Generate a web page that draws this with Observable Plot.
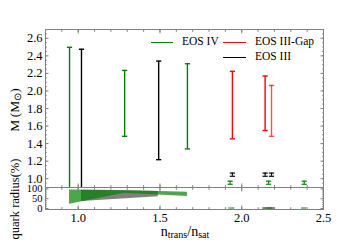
<!DOCTYPE html>
<html><head><meta charset="utf-8">
<script src="https://cdn.jsdelivr.net/npm/d3@7"></script>
<script src="https://cdn.jsdelivr.net/npm/@observablehq/plot@0.6"></script>
<style>
body{margin:0;background:#fff;}
#wrap{position:relative;width:360px;height:240px;overflow:hidden;font-family:"Liberation Serif",serif;color:#000;}
#wrap svg{position:absolute;left:0;overflow:visible;}
.t{position:absolute;white-space:nowrap;line-height:1;}
.ln{position:absolute;height:0;border-top:1.6px solid;}
sub{font-size:72%;vertical-align:baseline;position:relative;top:0.2em;}
</style></head><body><div id="wrap"></div>
<script>
// ---- data ----
// EOS IV (green)
const eosIV_x  = [0.947, 1.284, 1.668];
const eosIV_lo = [0.80, 1.483, 1.34];
const eosIV_hi = [2.497, 2.234, 2.31];
// EOS III (black)
const eosIII_x  = [1.02, 1.492];
const eosIII_lo = [0.80, 1.217];
const eosIII_hi = [2.475, 2.34];
// EOS III-Gap (red)
const gap_x  = [1.943, 2.143, 2.182];
const gap_lo = [1.454, 1.549, 1.483];
const gap_hi = [2.223, 2.170, 2.063];
// small low-mass bars
const smallIII_x  = [1.943, 2.143, 2.182];
const smallIII_lo = [1.028, 1.028, 1.028];
const smallIII_hi = [1.064, 1.064, 1.064];
const smallIV_x  = [1.929, 2.164, 2.382];
const smallIV_lo = [0.937, 0.937, 0.937];
const smallIV_hi = [0.972, 0.972, 0.972];
// quark radius (%) bands
const qIV_x  = [0.947, 1.284, 1.668];
const qIV_lo = [22, 78, 62];
const qIV_hi = [95, 92, 83];
const qIII_x  = [1.02, 1.49];
const qIII_lo = [36, 60];
const qIII_hi = [93, 87];
const qSmallIV_x1 = [1.921, 2.151, 2.366];
const qSmallIV_x2 = [1.958, 2.188, 2.398];
const qSmallIII_x1 = [2.129];
const qSmallIII_x2 = [2.202];
const qSmall_lo = -5, qSmall_hi = 5;
// ticks
const xMajor = [1.0, 1.5, 2.0, 2.5];
const xMinor = d3.range(0.8, 2.5001, 0.1);
const yMajor = [1.0, 1.2, 1.4, 1.6, 1.8, 2.0, 2.2, 2.4, 2.6];
const yMinor = d3.range(0.9, 2.7001, 0.05);
const qMajor = [0, 50, 100];
const qMinor = d3.range(0, 100.01, 10);

const GREEN = "#008000", RED = "#ff0000", BLACK = "#000000", SPINE = "#808080";
const font = {fontFamily: "Liberation Serif, serif", fontSize: "12.5px", background: "transparent", overflow: "visible", color: "#000"};

const cap = {draw(ctx, size) { const w = Math.sqrt(size / Math.PI); ctx.moveTo(-w, 0); ctx.lineTo(w, 0); }};

function rows(xs, lo, hi) { return xs.map((x, i) => ({x, lo: lo[i], hi: hi[i], i})); }
function bars(xs, lo, hi, color, extra = {}) {
  const d = rows(xs, lo, hi);
  const common = {stroke: color, strokeWidth: 1.4, clip: true, ...extra};
  return [
    Plot.ruleX(d, {x: "x", y1: "lo", y2: "hi", ...common}),
    Plot.dot(d, {x: "x", y: "hi", symbol: cap, r: 2.6, fill: "none", ...common}),
    Plot.dot(d, {x: "x", y: "lo", symbol: cap, r: 2.6, fill: "none", ...common})
  ];
}
function minorAxes(axis, anchors, ticks) {
  return anchors.map(a => axis({anchor: a, ticks, tickSize: -1.8, fill: "none", stroke: SPINE, label: null}));
}
function majorNoText(axis, anchors, ticks) {
  return anchors.map(a => axis({anchor: a, ticks, tickSize: -3.5, fill: "none", stroke: SPINE, label: null}));
}

const xScale = {domain: [0.8, 2.5]};

const topChart = Plot.plot({
  width: 360, height: 187,
  marginLeft: 45, marginRight: 37, marginTop: 29, marginBottom: 0,
  x: xScale,
  y: {domain: [0.9, 2.7]},
  style: font,
  marks: [
    ...bars(eosIV_x, eosIV_lo, eosIV_hi, GREEN),
    ...bars(eosIII_x, eosIII_lo, eosIII_hi, BLACK),
    ...bars(gap_x, gap_lo, gap_hi, RED, {strokeOpacity: d => d.i === 2 ? 0.7 : 1}),
    ...bars(smallIII_x, smallIII_lo, smallIII_hi, BLACK, {strokeWidth: 1.2}),
    ...bars(smallIV_x, smallIV_lo, smallIV_hi, GREEN, {strokeWidth: 1.2}),
    Plot.axisY({anchor: "left", ticks: yMajor, tickSize: -3.5, tickPadding: 6.5, tickFormat: d3.format(".1f"), stroke: SPINE, fill: "#000", label: null}),
    ...majorNoText(Plot.axisY, ["right"], yMajor),
    ...minorAxes(Plot.axisY, ["left", "right"], yMinor),
    ...majorNoText(Plot.axisX, ["top", "bottom"], xMajor),
    ...minorAxes(Plot.axisX, ["top", "bottom"], xMinor),
    Plot.frame({stroke: SPINE, strokeWidth: 1})
  ]
});
topChart.style.top = "0px";

const qIVrows = rows(qIV_x, qIV_lo, qIV_hi);
const qIIIrows = rows(qIII_x, qIII_lo, qIII_hi);
const sIV = qSmallIV_x1.map((x1, i) => ({x1, x2: qSmallIV_x2[i]}));
const sIII = qSmallIII_x1.map((x1, i) => ({x1, x2: qSmallIII_x2[i]}));

const bottomChart = Plot.plot({
  width: 360, height: 53,
  marginLeft: 45, marginRight: 37, marginTop: 0, marginBottom: 31,
  x: xScale,
  y: {domain: [-5, 107.5]},
  style: font,
  marks: [
    Plot.areaY(qIIIrows, {x: "x", y1: "lo", y2: "hi", fill: BLACK, fillOpacity: 0.5}),
    Plot.areaY(qIVrows, {x: "x", y1: "lo", y2: "hi", fill: GREEN, fillOpacity: 0.7}),
    Plot.rect(sIII, {x1: "x1", x2: "x2", y1: qSmall_lo, y2: qSmall_hi, fill: BLACK, fillOpacity: 0.5}),
    Plot.rect(sIV, {x1: "x1", x2: "x2", y1: qSmall_lo, y2: qSmall_hi, fill: GREEN, fillOpacity: 0.5}),
    Plot.axisY({anchor: "left", ticks: qMajor, tickSize: -3.5, tickPadding: 6.5, tickFormat: d3.format("d"), stroke: SPINE, fill: "#000", fontSize: 10.5, label: null}),
    ...majorNoText(Plot.axisY, ["right"], qMajor),
    ...minorAxes(Plot.axisY, ["left", "right"], qMinor),
    Plot.axisX({anchor: "bottom", ticks: xMajor, tickSize: -3.5, tickPadding: 7, tickFormat: d3.format(".1f"), stroke: SPINE, fill: "#000", label: null}),
    ...majorNoText(Plot.axisX, ["top"], xMajor),
    ...minorAxes(Plot.axisX, ["top", "bottom"], xMinor),
    Plot.frame({stroke: SPINE, strokeWidth: 1})
  ]
});
bottomChart.style.top = "187px";

const wrap = document.getElementById("wrap");
wrap.appendChild(topChart);
wrap.appendChild(bottomChart);

function addText(html, left, topPx, size, extra = "") {
  const d = document.createElement("div");
  d.className = "t";
  d.innerHTML = html;
  d.style.cssText += `left:${left}px;top:${topPx}px;font-size:${size}px;${extra}`;
  wrap.appendChild(d);
  return d;
}
function addLine(left, topPx, w, color) {
  const d = document.createElement("div");
  d.className = "ln";
  d.style.cssText += `left:${left}px;top:${topPx}px;width:${w}px;border-top-color:${color};`;
  wrap.appendChild(d);
}
// legend
addLine(151, 41.5, 22, GREEN);
addText("EOS IV", 182, 36, 11.5);
addLine(223, 41.5, 23, RED);
addText("EOS III-Gap", 255, 36, 11.5);
addLine(223, 56.5, 23, BLACK);
addText("EOS III", 255, 51, 11.5);
// axis labels
addText("M&#8201;(M<sub>&#8857;</sub>)", 15, 110, 13.5, "transform:translate(-50%,-50%) rotate(-90deg);");
addText("quark radius(%)", 15, 199, 12.5, "transform:translate(-50%,-50%) rotate(-90deg);");
addText("n<sub>trans</sub>/n<sub>sat</sub>", 185, 231.5, 14, "transform:translate(-50%,-50%);line-height:0.85;");
</script></body></html>
